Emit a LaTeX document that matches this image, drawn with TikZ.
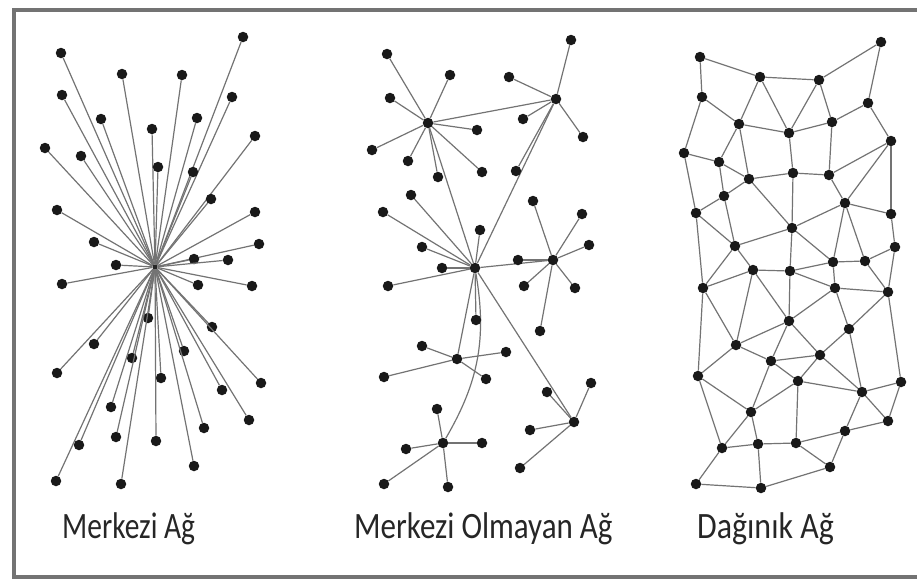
\documentclass[tikz,border=0pt]{standalone}
\usepackage{fontspec}
\setmainfont{Carlito}

\begin{document}
\begin{tikzpicture}[
    x=1pt, y=-1pt,
    dot/.style={circle, fill=black!90, inner sep=0pt, minimum size=10.5pt},
    hub/.style={circle, fill=black!85, inner sep=0pt, minimum size=5pt},
    link/.style={draw=black!55, line width=1.2pt},
    caption/.style={anchor=base west, text=black!85, inner sep=0pt,
        font=\fontsize{31}{34}\selectfont}
]
\useasboundingbox (0,0) rectangle (917,579);
\draw[draw=black!55, line width=4pt] (925,10) -- (14,10) -- (14,577) -- (925,577);

% Merkezi: one centre, every dot tied to it
\node[hub] (c0) at (155,267) {};
\foreach \x/\y [count=\i] in {61/53, 243/37, 122/74, 182/75, 62/95, 232/97,
    101/119, 197/118, 152/129, 255/136, 45/148, 81/156, 158/167, 193/172,
    211/199, 57/210, 255/212, 94/242, 259/244, 116/265, 194/259, 228/260,
    62/284, 198/285, 252/286, 148/318, 212/327, 94/344, 184/351, 132/358,
    57/373, 161/378, 261/383, 222/390, 111/407, 249/420, 204/428, 116/437,
    156/441, 79/445, 194/466, 56/481, 121/484} {
  \node[dot] (s\i) at (\x,\y) {};
  \draw[link] (s\i) -- (c0);
}

% Merkezi olmayan: several hubs
\node[dot] (ha) at (428,123) {};
\node[dot] (hb) at (556,99) {};
\node[dot] (hc) at (553,260) {};
\node[dot] (hd) at (475,268) {};
\node[dot] (he) at (457,359) {};
\node[dot] (hf) at (574,422) {};
\node[dot] (hg) at (443,443) {};
\draw[link] (ha) -- (hb);
\draw[link] (ha) -- (hd);
\draw[link] (hb) -- (hd);
\draw[link] (hc) -- (hd);
\draw[link] (he) -- (hd);
\draw[link] (hf) -- (hd);
\draw[link] (hd) to[bend left=20] (hg);

\foreach \x/\y [count=\i] in {387/54, 450/75, 390/98, 477/130, 372/150,
    408/161, 438/177, 482/172} {
  \node[dot] (a\i) at (\x,\y) {};
  \draw[link] (a\i) -- (ha);
}
\foreach \x/\y [count=\i] in {571/40, 509/77, 523/119, 583/137, 516/171} {
  \node[dot] (b\i) at (\x,\y) {};
  \draw[link] (b\i) -- (hb);
}
\foreach \x/\y [count=\i] in {533/201, 582/214, 589/245, 518/260, 524/286,
    575/288, 540/331} {
  \node[dot] (c\i) at (\x,\y) {};
  \draw[link] (c\i) -- (hc);
}
\foreach \x/\y [count=\i] in {411/195, 383/212, 480/230, 422/247, 442/268,
    388/286, 476/320} {
  \node[dot] (d\i) at (\x,\y) {};
  \draw[link] (d\i) -- (hd);
}
\foreach \x/\y [count=\i] in {422/346, 506/352, 384/377, 486/379} {
  \node[dot] (e\i) at (\x,\y) {};
  \draw[link] (e\i) -- (he);
}
\foreach \x/\y [count=\i] in {547/392, 591/383, 530/430, 520/468} {
  \node[dot] (f\i) at (\x,\y) {};
  \draw[link] (f\i) -- (hf);
}
\foreach \x/\y [count=\i] in {437/409, 406/449, 482/443, 384/484, 448/487} {
  \node[dot] (g\i) at (\x,\y) {};
  \draw[link] (g\i) -- (hg);
}

% Dagınık: mesh
\foreach \x/\y [count=\i] in {700/57, 881/42, 760/77, 819/80, 702/97, 868/103,
    739/124, 832/122, 789/133, 891/141, 684/153, 719/162, 749/179, 793/173,
    829/175, 724/196, 845/203, 696/213, 891/214, 792/228, 735/246, 895/247,
    833/262, 865/261, 753/270, 790/271, 703/288, 835/288, 888/292, 789/321,
    849/329, 736/345, 820/355, 771/361, 698/376, 798/381, 901/382, 862/392,
    751/412, 888/421, 845/431, 722/448, 758/444, 796/443, 830/467, 696/484,
    761/488}
  \node[dot] (r\i) at (\x,\y) {};
\foreach \p/\q in {1/3, 1/5, 3/4, 4/2, 2/6, 3/7, 3/9, 4/9, 4/8, 5/7, 5/11,
    7/9, 9/8, 8/6, 6/10, 7/12, 7/13, 9/14, 8/15, 11/12, 11/18, 12/13, 12/16,
    13/14, 14/15, 15/10, 10/17, 10/19, 13/16, 13/20, 14/20, 15/17, 17/20,
    17/19, 17/23, 17/24, 19/22, 16/18, 16/21, 18/21, 18/27, 20/21, 20/26,
    20/23, 21/25, 21/27, 22/24, 22/29, 23/24, 23/28, 24/29, 25/26, 25/27,
    25/30, 25/32, 26/30, 26/23, 26/28, 28/29, 28/30, 28/31, 29/31, 29/37,
    27/32, 27/35, 30/32, 30/34, 30/33, 31/33, 31/38, 32/34, 32/35, 34/33,
    34/36, 34/39, 33/36, 33/38, 35/39, 35/42, 36/38, 36/39, 36/44, 37/38,
    37/40, 38/40, 38/41, 39/42, 39/43, 40/41, 41/44, 41/45, 42/43, 42/46,
    43/44, 43/47, 44/45, 45/47, 46/47}
  \draw[link] (r\p) -- (r\q);

% captions
\node[caption] (capc) at (62,538) {\scalebox{0.95}[1.2]{Merkezi Ağ}};
\node[caption] (capd) at (354,538) {\scalebox{1}[1.2]{Merkezi Olmayan Ağ}};
\node[caption] (capm) at (697,538) {\scalebox{1.03}[1.2]{Dağınık Ağ}};

\end{tikzpicture}
\end{document}
